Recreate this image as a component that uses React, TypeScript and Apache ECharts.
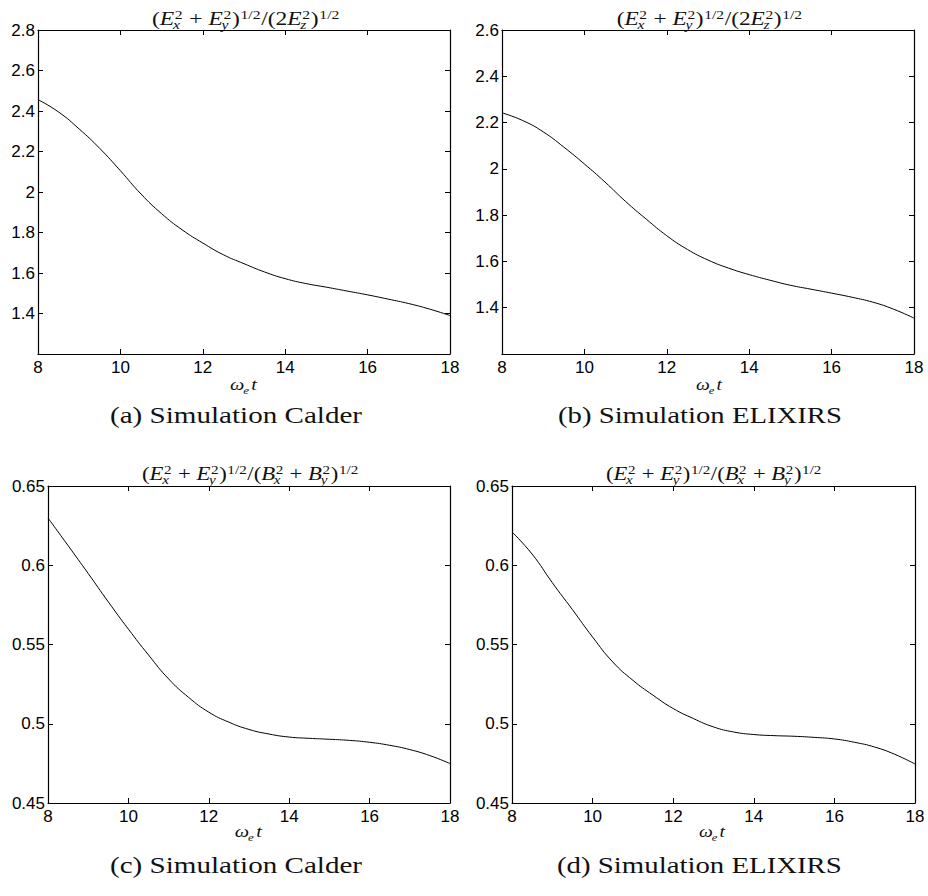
import React, { useEffect, useRef } from "react";
import * as echarts from "echarts";

// ω_e t sample times (every half unit) and the four field-ratio curves
const times = [8, 8.5, 9, 9.5, 10, 10.5, 11, 11.5, 12, 12.5, 13, 13.5, 14, 14.5, 15, 15.5, 16, 16.5, 17, 17.5, 18];
const ratioEzCalder = [2.456, 2.395, 2.311, 2.215, 2.105, 1.99, 1.893, 1.813, 1.748, 1.69, 1.646, 1.605, 1.572, 1.548, 1.53, 1.511, 1.492, 1.471, 1.449, 1.422, 1.39];
const ratioEzElixirs = [2.242, 2.209, 2.16, 2.094, 2.021, 1.943, 1.859, 1.783, 1.711, 1.652, 1.606, 1.571, 1.543, 1.519, 1.497, 1.48, 1.463, 1.445, 1.424, 1.394, 1.355];
const ratioBCalder = [0.6298, 0.6124, 0.5948, 0.5769, 0.5597, 0.5434, 0.5283, 0.5166, 0.5073, 0.501, 0.4964, 0.4935, 0.4916, 0.4908, 0.4902, 0.4895, 0.4883, 0.4864, 0.4837, 0.4799, 0.4749];
const ratioBElixirs = [0.621, 0.607, 0.589, 0.572, 0.5547, 0.539, 0.5274, 0.518, 0.5096, 0.5033, 0.498, 0.4948, 0.4932, 0.4925, 0.4921, 0.4914, 0.4904, 0.4883, 0.4853, 0.4807, 0.4746];

const captions = ["(a) Simulation Calder", "(b) Simulation ELIXIRS", "(c) Simulation Calder", "(d) Simulation ELIXIRS"];

type Piece = { t: string; it?: boolean; sup?: string; sub?: string };

const titleEz: Piece[] = [
  { t: "(" },
  { t: "E", it: true, sup: "2", sub: "x" },
  { t: " + " },
  { t: "E", it: true, sup: "2", sub: "y" },
  { t: ")", sup: "1/2" },
  { t: "/(2" },
  { t: "E", it: true, sup: "2", sub: "z" },
  { t: ")", sup: "1/2" },
];
const titleB: Piece[] = [
  { t: "(" },
  { t: "E", it: true, sup: "2", sub: "x" },
  { t: " + " },
  { t: "E", it: true, sup: "2", sub: "y" },
  { t: ")", sup: "1/2" },
  { t: "/(" },
  { t: "B", it: true, sup: "2", sub: "x" },
  { t: " + " },
  { t: "B", it: true, sup: "2", sub: "y" },
  { t: ")", sup: "1/2" },
];
const axisName: Piece[] = [{ t: "ω", it: true, sub: "e" }, { t: "t", it: true }];

const SERIF = '"Liberation Serif"';
const SANS = "Liberation Sans";

let measureCtx: CanvasRenderingContext2D | null = null;
function measure(text: string, size: number, italic: boolean): number {
  if (!measureCtx) measureCtx = document.createElement("canvas").getContext("2d");
  measureCtx!.font = `${italic ? "italic " : ""}${size}px ${SERIF}`;
  return measureCtx!.measureText(text).width;
}

function glyph(text: string, x: number, baseline: number, size: number, italic: boolean) {
  return {
    type: "text",
    x,
    y: baseline - 0.32 * size,
    style: {
      text,
      font: `${italic ? "italic " : ""}${size}px ${SERIF}`,
      fill: "#111",
      textAlign: "left",
      verticalAlign: "middle",
      textVerticalAlign: "middle",
    },
  };
}

// lay out a small formula with stacked super/subscripts, centred at cx
function formula(pieces: Piece[], cx: number, baseline: number, width: number, size = 18, ssize = 12) {
  const children: any[] = [];
  let x = 0;
  for (const p of pieces) {
    children.push(glyph(p.t, x, baseline, size, !!p.it));
    x += measure(p.t, size, !!p.it);
    if (p.sup || p.sub) {
      let w = 0;
      if (p.sup) {
        children.push(glyph(p.sup, x + 0.5, baseline - 6.5, ssize, false));
        w = Math.max(w, measure(p.sup, ssize, false));
      }
      if (p.sub) {
        children.push(glyph(p.sub, x - (p.it ? 1 : 0), baseline + 3.5, ssize, true));
        w = Math.max(w, measure(p.sub, ssize, true));
      }
      x += w + 1;
    }
  }
  return { type: "group", x: cx - width / 2, y: 0, scaleX: width / x, children };
}

function caption(text: string, cx: number, baseline: number, width: number, size = 23) {
  const w = measure(text, size, false);
  return { type: "group", x: cx - width / 2, y: 0, scaleX: width / w, children: [glyph(text, 0, baseline, size, false)] };
}

const grids = [
  { left: 38, top: 30, width: 412, height: 324 },
  { left: 502, top: 30, width: 412, height: 324 },
  { left: 48, top: 486, width: 402, height: 317 },
  { left: 512, top: 486, width: 403, height: 317 },
];
const yRanges = [
  { min: 1.2, max: 2.8, interval: 0.2, hideMin: true },
  { min: 1.2, max: 2.6, interval: 0.2, hideMin: true },
  { min: 0.45, max: 0.65, interval: 0.05, hideMin: false },
  { min: 0.45, max: 0.65, interval: 0.05, hideMin: false },
];

export default function App() {
  const ref = useRef<HTMLDivElement>(null);
  useEffect(() => {
    if (!ref.current) return;
    const chart = echarts.init(ref.current, undefined, { renderer: "svg" });
    const line = { color: "#000", width: 1.2 };
    const tick = { inside: true, length: 5, lineStyle: { color: "#000" } };
    const xAxes: any[] = [];
    const yAxes: any[] = [];
    grids.forEach((g, i) => {
      const base = { type: "value", gridIndex: i, min: 8, max: 18, interval: 2, splitLine: { show: false }, axisLine: { show: true, onZero: false, lineStyle: line } };
      xAxes.push({ ...base, position: "bottom", axisTick: tick, axisLabel: { color: "#000", fontFamily: SANS, fontSize: 17, margin: 5 } });
      xAxes.push({ ...base, position: "top", axisTick: tick, axisLabel: { show: false } });
      const r = yRanges[i];
      const ybase = { type: "value", gridIndex: i, min: r.min, max: r.max, interval: r.interval, splitLine: { show: false }, axisLine: { show: true, onZero: false, lineStyle: line } };
      yAxes.push({ ...ybase, position: "left", axisTick: tick, axisLabel: { color: "#000", fontFamily: SANS, fontSize: 17, margin: 3, showMinLabel: !r.hideMin } });
      yAxes.push({ ...ybase, position: "right", axisTick: tick, axisLabel: { show: false } });
    });
    const curves = [ratioEzCalder, ratioEzElixirs, ratioBCalder, ratioBElixirs].map((vals) => times.map((t, k) => [t, vals[k]]));
    const series = curves.map((d, i) => ({
      type: "line",
      xAxisIndex: i * 2,
      yAxisIndex: i * 2,
      data: d,
      smooth: 0.5,
      showSymbol: false,
      lineStyle: { color: "#000", width: 1 },
    }));
    const graphic = [
      formula(titleEz, 246, 25, 188),
      formula(titleEz, 709.7, 25, 186),
      formula(titleB, 250.5, 480, 217),
      formula(titleB, 714, 480, 216),
      formula(axisName, 243.5, 390, 27, 17, 11),
      formula(axisName, 709, 390, 26, 17, 11),
      formula(axisName, 248.3, 837, 27, 17, 11),
      formula(axisName, 712, 837, 26, 17, 11),
      caption(captions[0], 236, 423, 252),
      caption(captions[1], 700, 423, 284),
      caption(captions[2], 236, 872.5, 252),
      caption(captions[3], 699.5, 872.5, 285),
    ];
    chart.setOption({
      animation: false,
      backgroundColor: "#fff",
      textStyle: { fontFamily: SANS },
      grid: grids.map((g) => ({ ...g, containLabel: false })),
      xAxis: xAxes,
      yAxis: yAxes,
      series,
      graphic,
    });
    return () => chart.dispose();
  }, []);
  return <div ref={ref} style={{ position: "fixed", left: 0, top: 0, width: 928, height: 896 }} />;
}
